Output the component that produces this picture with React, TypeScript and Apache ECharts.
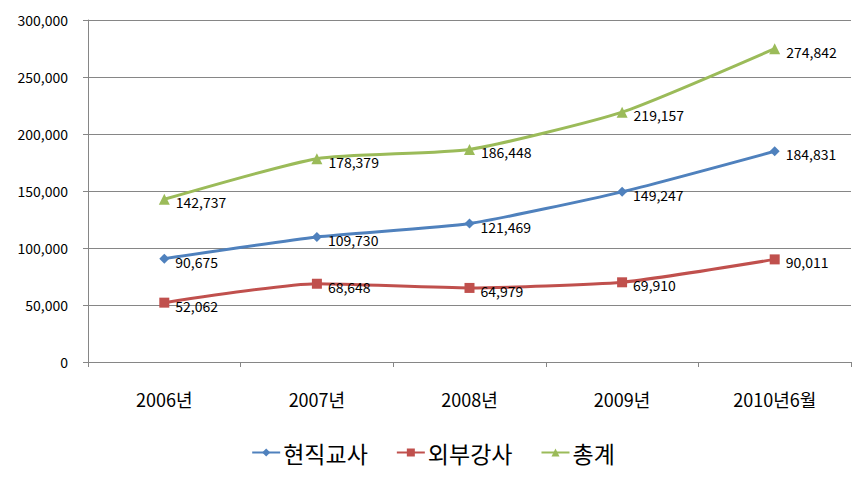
import React, { useEffect, useRef } from "react";
import * as echarts from "echarts";

const categories = ["2006년", "2007년", "2008년", "2009년", "2010년6월"];
const teachers = [90675, 109730, 121469, 149247, 184831];
const instructors = [52062, 68648, 64979, 69910, 90011];
const totals = [142737, 178379, 186448, 219157, 274842];
const seriesNames = ["현직교사", "외부강사", "총계"];
const colors = ["#4F81BD", "#C0504D", "#9BBB59"];

const FONT = "'Noto Sans CJK KR', 'Noto Sans', sans-serif";

export default function App() {
  const ref = useRef<HTMLDivElement>(null);
  useEffect(() => {
    if (!ref.current) return;
    const chart = echarts.init(ref.current, undefined, { renderer: "svg" });
    const fmt = (v: number) => v.toLocaleString("en-US");
    const mk = (name: string, data: number[], color: string, symbol: string, size: number) => ({
      name,
      type: "line",
      data,
      smooth: 0.18,
      symbol,
      symbolSize: size,
      color,
      lineStyle: { color, width: 3 },
      itemStyle: { color },
      label: {
        show: true,
        position: "right",
        offset: [0, 3],
        distance: 6,
        color: "#000",
        fontSize: 14,
        fontFamily: FONT,
        formatter: (p: any) => fmt(p.value),
      },
    });
    chart.setOption({
      animation: false,
      backgroundColor: "#fff",
      textStyle: { fontFamily: FONT },
      grid: { left: 88, right: 15, top: 20, bottom: 115 },
      xAxis: {
        type: "category",
        data: categories,
        boundaryGap: true,
        axisLine: { lineStyle: { color: "#868686", width: 1 } },
        axisTick: { show: true, length: 5, lineStyle: { color: "#868686" } },
        axisLabel: { color: "#000", fontSize: 18, margin: 28, fontFamily: FONT },
      },
      yAxis: {
        type: "value",
        min: 0,
        max: 300000,
        interval: 50000,
        axisLine: { show: true, lineStyle: { color: "#868686" } },
        axisTick: { show: true, length: 5, lineStyle: { color: "#868686" } },
        splitLine: { lineStyle: { color: "#868686", width: 1 } },
        axisLabel: { color: "#000", fontSize: 14, margin: 20, fontFamily: FONT, formatter: (v: number) => fmt(v) },
      },
      legend: {
        bottom: 8,
        left: "center",
        itemWidth: 28,
        itemHeight: 10,
        itemGap: 28,
        textStyle: { fontSize: 23, color: "#000", fontFamily: FONT, padding: [0, 0, 0, -2] },
        data: seriesNames,
      },
      series: [
        mk(seriesNames[0], teachers, colors[0], "diamond", 10),
        mk(seriesNames[1], instructors, colors[1], "rect", 10),
        mk(seriesNames[2], totals, colors[2], "triangle", 11),
      ],
    });
    return () => chart.dispose();
  }, []);
  return (
    <div
      ref={ref}
      style={{ position: "fixed", left: 0, top: 0, width: 866, height: 477 }}
    />
  );
}
